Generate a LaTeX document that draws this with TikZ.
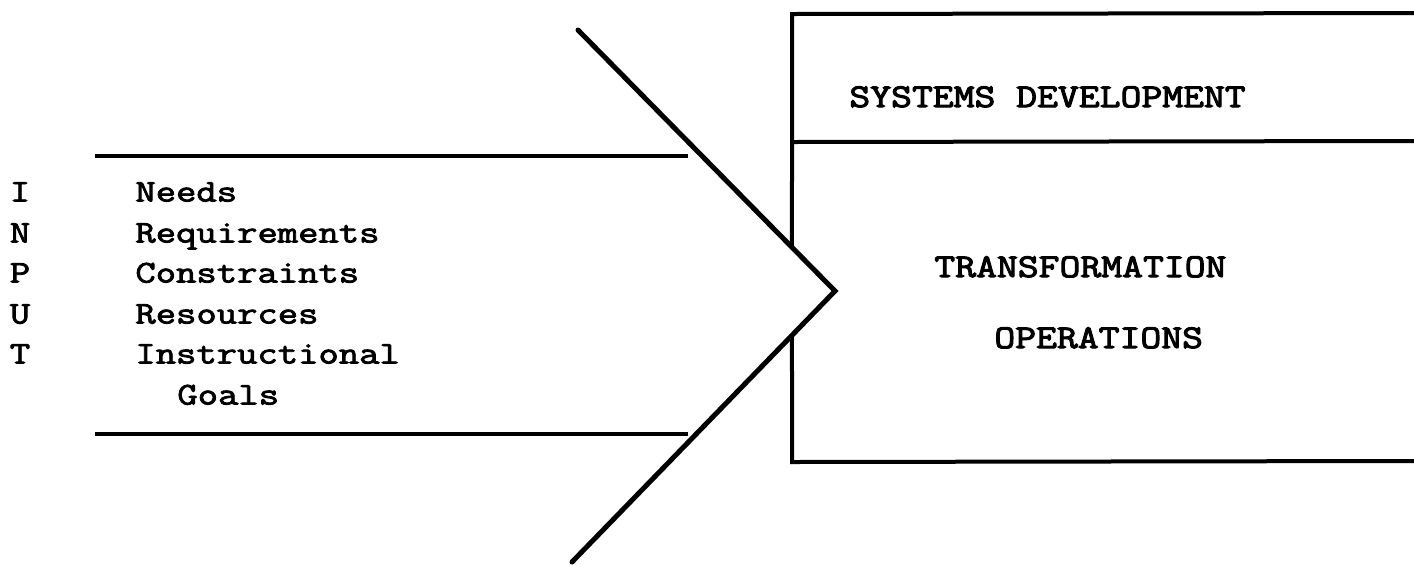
\documentclass[tikz,border=0pt]{standalone}
\usepackage{fontspec}
\newfontfamily\listfont{Latin Modern Mono}[FakeStretch=1.25, BoldFont=Latin Modern Mono, BoldFeatures={FakeBold=2.6}]
\newfontfamily\boxfont{Latin Modern Mono}[FakeStretch=1.22, BoldFont=Latin Modern Mono, BoldFeatures={FakeBold=3.2}]
\usepackage{tikz}

\tikzset{
    listtext/.style={inner sep=0pt, font=\listfont\bfseries\fontsize{15.8}{19}\selectfont},
    boxtext/.style={inner sep=0pt, anchor=base west, font=\boxfont\bfseries\fontsize{16.6}{20}\selectfont},
    heavy/.style={line width=2.5pt, line cap=round, line join=miter},
    rule/.style={line width=2pt},
    thinrule/.style={line width=1.8pt}
}

\begin{document}
\begin{tikzpicture}[x=0.5pt, y=-0.5pt]

    % Background
    \useasboundingbox[fill=white] (0, 0) rectangle (1414, 564);

    % Input rules
    \coordinate (inTopL) at (95, 156);
    \coordinate (inTopR) at (688, 156);
    \coordinate (inBotL) at (95, 434);
    \coordinate (inBotR) at (688, 434);
    \draw[thinrule] (inTopL) -- (inTopR);
    \draw[thinrule] (inBotL) -- (inBotR);

    % Chevron
    \coordinate (tipTop) at (578, 30);
    \coordinate (tipMid) at (835, 291);
    \coordinate (tipBot) at (572, 562);
    \draw[heavy] (tipTop) -- (tipMid) -- (tipBot);

    % Box
    \coordinate (boxTL) at (792, 14);
    \coordinate (boxTR) at (1414, 13);
    \coordinate (boxML) at (792, 142);
    \coordinate (boxMR) at (1414, 141);
    \coordinate (boxBL) at (792, 462);
    \coordinate (boxBR) at (1414, 461);
    \coordinate (cutTop) at (intersection of tipTop--tipMid and boxTL--boxBL);
    \coordinate (cutBot) at (intersection of tipMid--tipBot and boxTL--boxBL);
    \draw[rule, line join=miter] (boxTR) -- (boxTL) -- (cutTop);
    \draw[rule, line join=miter] (cutBot) -- (boxBL) -- (boxBR);
    \draw[rule] (boxML) -- (boxMR);

    % Input letters
    \node[listtext, anchor=base] (inI) at (20, 201.5) {I};
    \node[listtext, anchor=base] (inN) at (20, 242.5) {N};
    \node[listtext, anchor=base] (inP) at (20, 282.5) {P};
    \node[listtext, anchor=base] (inU) at (20, 323.5) {U};
    \node[listtext, anchor=base] (inT) at (20, 363.5) {T};

    % Input items
    \node[listtext, anchor=base west] (needs) at (135, 201.5) {Needs};
    \node[listtext, anchor=base west] (reqs) at (135, 242.5) {Requirements};
    \node[listtext, anchor=base west] (cons) at (135, 282.5) {Constraints};
    \node[listtext, anchor=base west] (res) at (135, 323.5) {Resources};
    \node[listtext, anchor=base west] (instr) at (135, 363.5) {Instructional};
    \node[listtext, anchor=base west] (goals) at (177, 404.5) {Goals};

    % Box labels
    \node[boxtext] (sysdev) at (849, 107) {SYSTEMS DEVELOPMENT};
    \node[boxtext] (transf) at (934, 277) {TRANSFORMATION};
    \node[boxtext] (oper) at (994, 348) {OPERATIONS};

\end{tikzpicture}
\end{document}
